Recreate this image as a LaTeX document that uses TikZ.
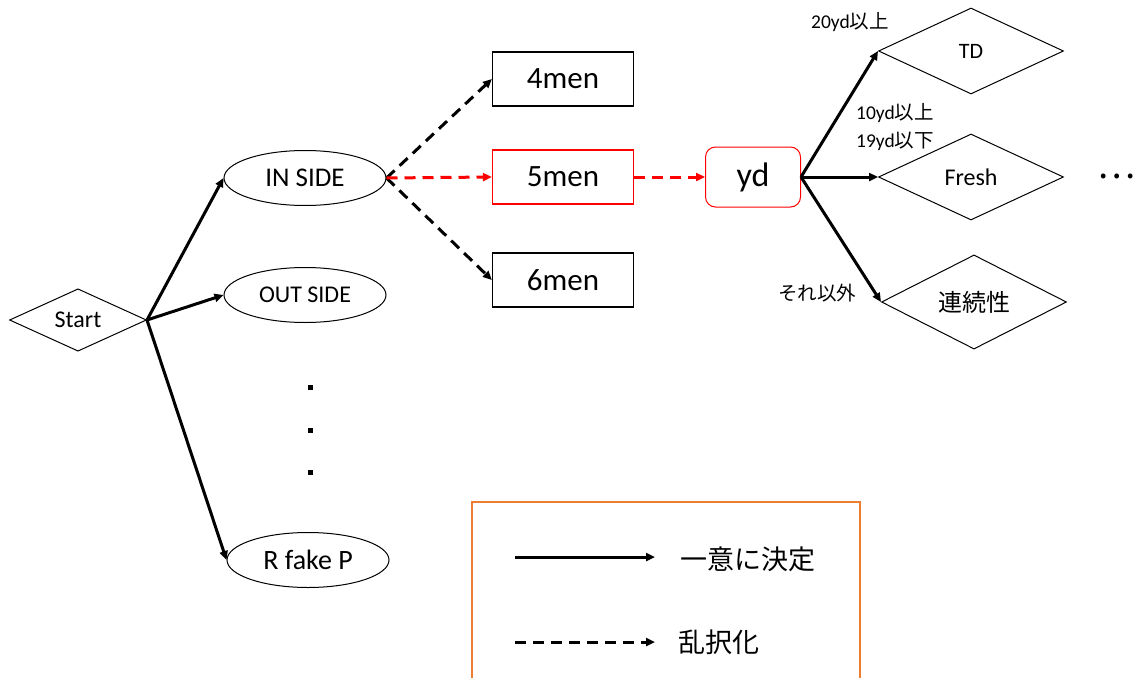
\documentclass[tikz,border=0pt]{standalone}
\usepackage{fontspec}
\setmainfont{Carlito}
\newfontfamily\jp{Noto Sans CJK JP}
\usetikzlibrary{shapes.geometric,arrows.meta}
\definecolor{legendorange}{RGB}{237,125,49}

\begin{document}
\begin{tikzpicture}[x=1pt,y=-1pt,
  diam/.style={draw,diamond,line width=1pt,inner sep=0pt,minimum width=185pt,minimum height=86pt,font=\fontsize{24}{26}\selectfont},
  oval/.style={draw,ellipse,line width=1pt,inner sep=0pt,minimum width=162pt,minimum height=55pt},
  menbox/.style={draw,rectangle,line width=1.2pt,inner sep=0pt,minimum width=141pt,minimum height=54pt,font=\fontsize{31}{33}\selectfont},
  cond/.style={font=\fontsize{19.5}{21}\selectfont},
  dot/.style={fill,rectangle,inner sep=0pt,minimum size=5pt},
  sure/.style={-{Triangle[length=9pt,width=8pt]},line width=3pt},
  rand/.style={sure,dash pattern=on 11pt off 7pt}]
\useasboundingbox (0,0) rectangle (1137,677);

\node[diam,minimum width=137pt,minimum height=62pt] (start) at (78,320) {Start};
\node[oval,font=\fontsize{27}{29}\selectfont] (inside) at (305,178) {IN SIDE};
\node[oval,font=\fontsize{24}{26}\selectfont] (outside) at (305,295) {OUT SIDE};
\node[oval,font=\fontsize{28}{30}\selectfont] (rfakep) at (308,560) {R fake P};
\node[dot] (dotA) at (310,387) {};
\node[dot] (dotB) at (310,430) {};
\node[dot] (dotC) at (310,472) {};

\node[menbox] (men4) at (563,79) {4men};
\node[menbox,draw=red] (men5) at (563,177) {5men};
\node[menbox] (men6) at (563,280) {6men};
\node[draw=red,line width=1pt,rounded corners=10pt,minimum width=95pt,minimum height=60pt,font=\fontsize{34}{36}\selectfont] (yd) at (753,177) {yd};

\node[diam,font=\fontsize{22}{24}\selectfont] (td) at (971,51) {TD};
\node[diam] (fresh) at (971,177) {Fresh};
\node[diam] (renzoku) at (974,302) {\jp 連続性};
\node[font=\fontsize{36}{38}\selectfont,inner sep=0pt] (more) at (1117,176) {\jp …};

\node[cond] (over20) at (850,22) {20yd{\jp 以上}};
\node[cond] (over10) at (895,113) {10yd{\jp 以上}};
\node[cond] (under19) at (895,141) {19yd{\jp 以下}};
\node[cond] (other) at (817,293) {\jp それ以外};

% Start
\draw[sure] (start.east) -- (inside.west);
\draw[sure] (start.east) -- (outside.west);
\draw[sure] (start.east) -- (rfakep.west);

% IN SIDE
\draw[rand] (inside.east) -- (men4.west);
\draw[rand] (inside.east) -- (men6.west);
\draw[rand,red] (inside.east) -- (men5.west);
\draw[rand,red] (men5.east) -- (yd.west);

% yd
\draw[sure] (yd.east) -- (td.west);
\draw[sure] (yd.east) -- (fresh.west);
\draw[sure] (yd.east) -- (renzoku.west);

% legend
\draw[legendorange,line width=2pt] (472,502) rectangle (860,700);
\coordinate (sureA) at (515,557);
\coordinate (sureB) at (655,557);
\coordinate (randA) at (515,642);
\coordinate (randB) at (655,642);
\draw[sure] (sureA) -- (sureB);
\draw[rand] (randA) -- (randB);
\node[font=\fontsize{27}{29}\selectfont] (sureText) at (748,559) {\jp 一意に決定};
\node[font=\fontsize{27}{29}\selectfont] (randText) at (719,642) {\jp 乱択化};
\end{tikzpicture}
\end{document}
